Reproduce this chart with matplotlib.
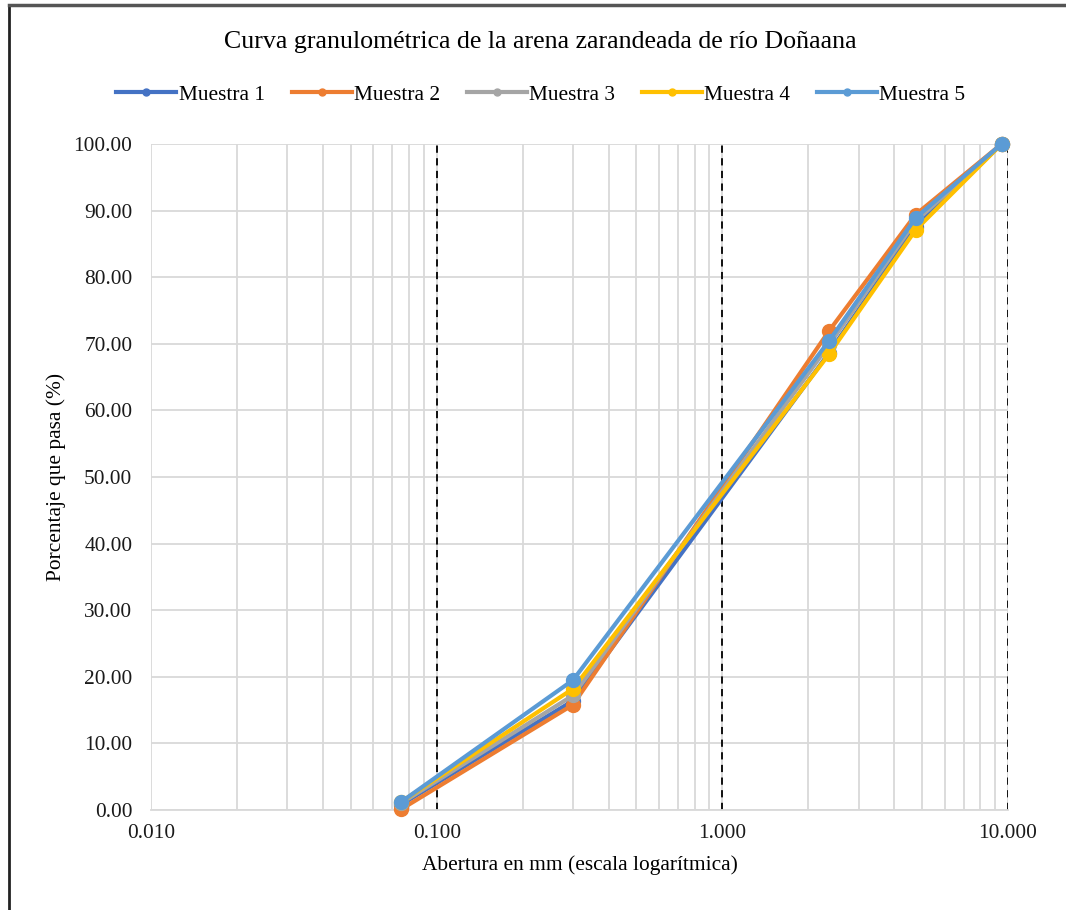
import numpy as np
import matplotlib.pyplot as plt
from matplotlib.ticker import FixedLocator, FuncFormatter, NullFormatter
from matplotlib.lines import Line2D

plt.rcParams['font.family'] = ['Liberation Serif', 'DejaVu Serif']

# abertura de tamices (mm)
abertura = [0.075, 0.3, 2.36, 4.75, 9.5]

muestra1 = [0.8, 16.4, 68.6, 87.6, 100.0]
muestra2 = [0.1, 15.8, 71.9, 89.4, 100.0]
muestra3 = [1.0, 17.2, 69.8, 88.4, 100.0]
muestra4 = [1.2, 18.2, 68.4, 87.1, 100.0]
muestra5 = [1.2, 19.5, 70.4, 88.9, 100.0]

series = [muestra1, muestra2, muestra3, muestra4, muestra5]
nombres = ['Muestra 1', 'Muestra 2', 'Muestra 3', 'Muestra 4', 'Muestra 5']
colores = ['#4472C4', '#ED7D31', '#A5A5A5', '#FFC000', '#5B9BD5']

fig = plt.figure(figsize=(10.66, 9.10), dpi=100)
ax = fig.add_axes([0.1417, 0.1099, 0.8039, 0.7319])

# marco exterior (solo izquierda y arriba quedan visibles)
fig.add_artist(Line2D([9 / 1066, 9 / 1066], [0, 1 - 5 / 910], transform=fig.transFigure,
                      color='#222222', lw=2))
fig.add_artist(Line2D([9 / 1066, 1], [1 - 5 / 910, 1 - 5 / 910], transform=fig.transFigure,
                      color='#555555', lw=2.5))

ax.set_xscale('log')
ax.set_xlim(0.01, 10)
ax.set_ylim(0, 100)

ax.xaxis.set_major_locator(FixedLocator([0.01, 0.1, 1, 10]))
minors = [m * 10.0 ** e for e in (-2, -1, 0) for m in range(2, 10)]
ax.xaxis.set_minor_locator(FixedLocator(minors))
ax.xaxis.set_major_formatter(FuncFormatter(lambda v, p: f'{v:.3f}'))
ax.xaxis.set_minor_formatter(NullFormatter())
ax.set_yticks(np.arange(0, 101, 10))
ax.yaxis.set_major_formatter(FuncFormatter(lambda v, p: f'{v:.2f}'))

ax.grid(True, which='both', axis='x', color='#D9D9D9', lw=1.3)
ax.grid(True, which='major', axis='y', color='#D9D9D9', lw=1.3)
ax.set_axisbelow(True)
for v in [0.1, 1, 10]:
    ax.axvline(v, color='black', ls=(0, (4, 3)), lw=1.3, zorder=1.5)

for s in ['top', 'right', 'left']:
    ax.spines[s].set_visible(False)
ax.spines['bottom'].set_color('#D9D9D9')
ax.spines['bottom'].set_linewidth(1.3)
ax.tick_params(which='both', length=0, labelsize=15.4, colors='#1a1a1a')
ax.tick_params(axis='x', pad=10)
ax.tick_params(axis='y', pad=13.5)

for y, nombre, c in zip(series, nombres, colores):
    ax.plot(abertura, y, color=c, lw=3, marker='o', ms=10, label=nombre,
            clip_on=False, zorder=3)

ax.set_xlabel('Abertura en mm (escala logarítmica)', fontsize=15.4, labelpad=9)
ax.set_ylabel('Porcentaje que pasa (%)', fontsize=15.4, labelpad=5)

fig.text(0.507, 1 - 42 / 910, 'Curva granulométrica de la arena zarandeada de río Doñaana',
         ha='center', va='center', fontsize=18.6)

handles = [Line2D([0], [0], color=c, lw=3, marker='o', ms=5) for c in colores]
fig.legend(handles, nombres, loc='center', bbox_to_anchor=(541 / 1066, 1 - 95 / 910), ncol=5,
           frameon=False, fontsize=15.4, handlelength=2.8, handletextpad=0.1, columnspacing=1.27)

fig.savefig('out.png', dpi=100)
